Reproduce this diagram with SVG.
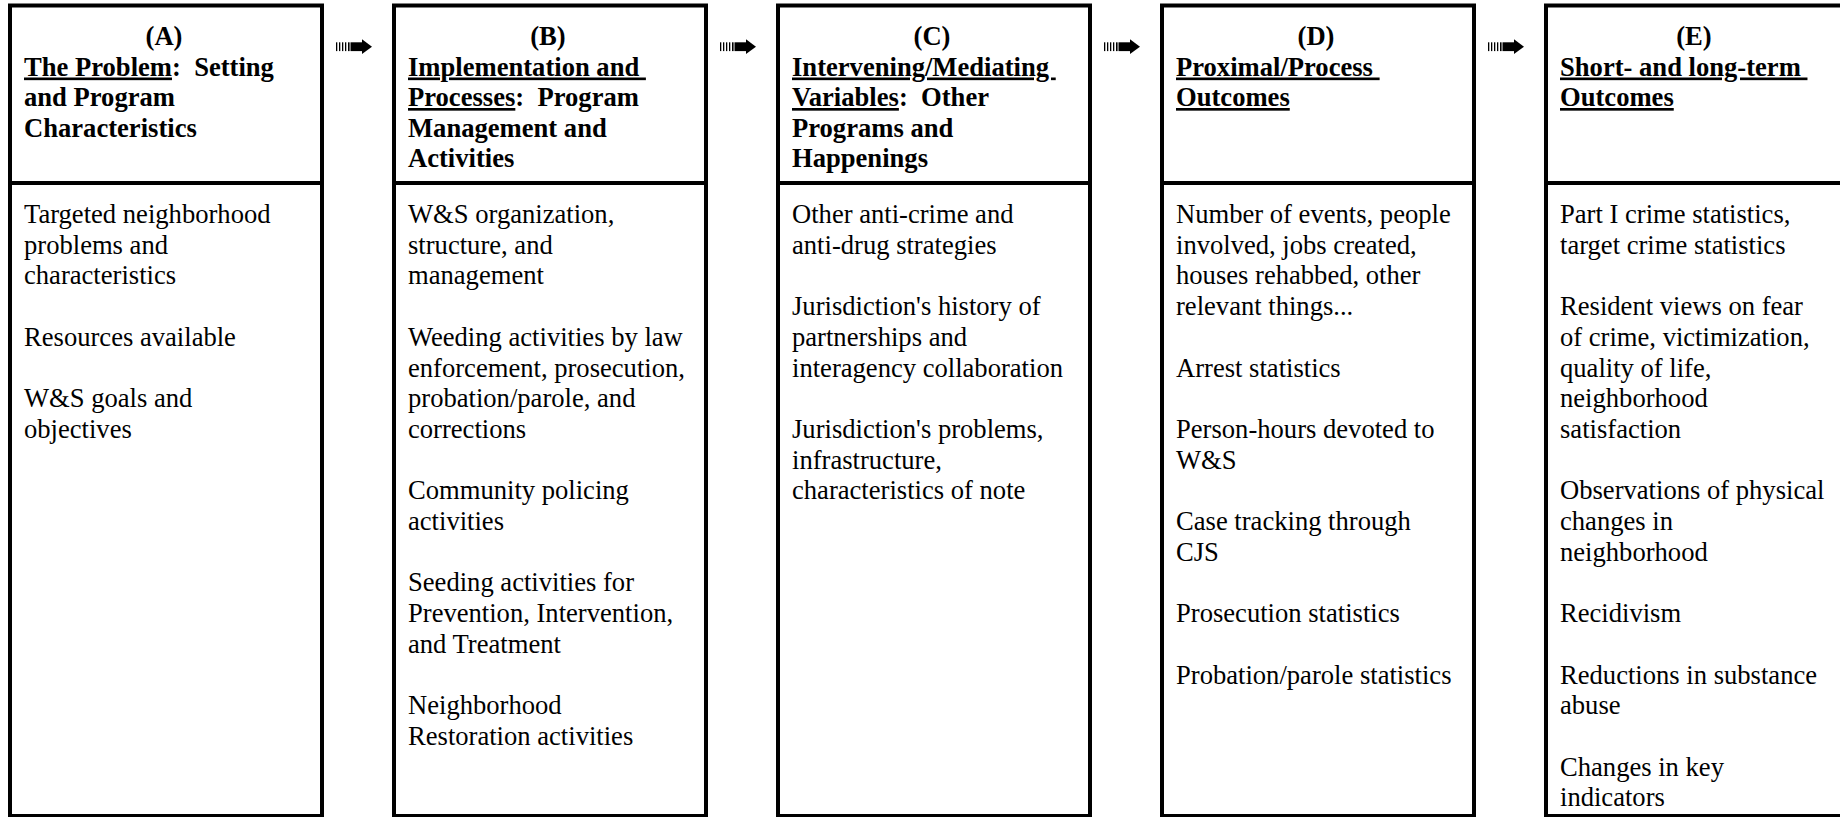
<svg xmlns="http://www.w3.org/2000/svg" width="1840" height="817" viewBox="0 0 1840 817">
<style>
.box{fill:#fff;stroke:#000;stroke-width:4}
.dv{stroke:#000;stroke-width:4}
.h{font-family:"Liberation Serif","Times New Roman",serif;font-size:26.6px;font-weight:bold;fill:#000}
.b{font-family:"Liberation Serif","Times New Roman",serif;font-size:26.6px;fill:#000}
.u{text-decoration:underline}
.c{text-anchor:middle}
.ar{fill:#000}
</style>
<defs>
<g id="arr">
<rect class="ar" x="1" y="-4.4" width="1.3" height="8.8"/>
<rect class="ar" x="4" y="-4.4" width="1.3" height="8.8"/>
<rect class="ar" x="7" y="-4.4" width="1.3" height="8.8"/>
<rect class="ar" x="10" y="-4.4" width="1.3" height="8.8"/>
<rect class="ar" x="13" y="-4.4" width="1.6" height="8.8"/>
<rect class="ar" x="15.5" y="-4.4" width="12" height="8.8"/>
<polygon class="ar" points="27,-7.4 37,0 27,7.4"/>
</g>
</defs>
<rect x="0" y="0" width="1840" height="817" fill="#fff"/>

<g id="connectors">
<use href="#arr" transform="translate(335,46.7)"/>
<use href="#arr" transform="translate(719,46.7)"/>
<use href="#arr" transform="translate(1103,46.7)"/>
<use href="#arr" transform="translate(1487,46.7)"/>
</g>

<g id="nodeA">
<rect class="box" x="10" y="5.5" width="312" height="810.5"/>
<line class="dv" x1="10" y1="183" x2="322" y2="183"/>
<text class="h c" x="164" y="45">(A)</text>
<text class="h" xml:space="preserve"><tspan x="24" y="75.5"><tspan class="u">The Problem</tspan>:  Setting</tspan><tspan x="24" y="106">and Program</tspan><tspan x="24" y="136.5">Characteristics</tspan></text>
<text class="b"><tspan x="24" y="223">Targeted neighborhood</tspan><tspan x="24" y="253.7">problems and</tspan><tspan x="24" y="284.4">characteristics</tspan><tspan x="24" y="345.8">Resources available</tspan><tspan x="24" y="407.2">W&amp;S goals and</tspan><tspan x="24" y="437.9">objectives</tspan></text>
</g>

<g id="nodeB">
<rect class="box" x="394" y="5.5" width="312" height="810.5"/>
<line class="dv" x1="394" y1="183" x2="706" y2="183"/>
<text class="h c" x="548" y="45">(B)</text>
<text class="h" xml:space="preserve"><tspan x="408" y="75.5" class="u">Implementation and </tspan><tspan x="408" y="106"><tspan class="u">Processes</tspan>:  Program</tspan><tspan x="408" y="136.5">Management and</tspan><tspan x="408" y="167">Activities</tspan></text>
<text class="b"><tspan x="408" y="223">W&amp;S organization,</tspan><tspan x="408" y="253.7">structure, and</tspan><tspan x="408" y="284.4">management</tspan><tspan x="408" y="345.8">Weeding activities by law</tspan><tspan x="408" y="376.5">enforcement, prosecution,</tspan><tspan x="408" y="407.2">probation/parole, and</tspan><tspan x="408" y="437.9">corrections</tspan><tspan x="408" y="499.3">Community policing</tspan><tspan x="408" y="530">activities</tspan><tspan x="408" y="591.4">Seeding activities for</tspan><tspan x="408" y="622.1">Prevention, Intervention,</tspan><tspan x="408" y="652.8">and Treatment</tspan><tspan x="408" y="714.2">Neighborhood</tspan><tspan x="408" y="744.9">Restoration activities</tspan></text>
</g>

<g id="nodeC">
<rect class="box" x="778" y="5.5" width="312" height="810.5"/>
<line class="dv" x1="778" y1="183" x2="1090" y2="183"/>
<text class="h c" x="932" y="45">(C)</text>
<text class="h" xml:space="preserve"><tspan x="792" y="75.5" class="u">Intervening/Mediating </tspan><tspan x="792" y="106"><tspan class="u">Variables</tspan>:  Other</tspan><tspan x="792" y="136.5">Programs and</tspan><tspan x="792" y="167">Happenings</tspan></text>
<text class="b"><tspan x="792" y="223">Other anti-crime and</tspan><tspan x="792" y="253.7">anti-drug strategies</tspan><tspan x="792" y="315.1">Jurisdiction's history of</tspan><tspan x="792" y="345.8">partnerships and</tspan><tspan x="792" y="376.5">interagency collaboration</tspan><tspan x="792" y="437.9">Jurisdiction's problems,</tspan><tspan x="792" y="468.6">infrastructure,</tspan><tspan x="792" y="499.3">characteristics of note</tspan></text>
</g>

<g id="nodeD">
<rect class="box" x="1162" y="5.5" width="312" height="810.5"/>
<line class="dv" x1="1162" y1="183" x2="1474" y2="183"/>
<text class="h c" x="1316" y="45">(D)</text>
<text class="h" xml:space="preserve"><tspan x="1176" y="75.5" class="u">Proximal/Process </tspan><tspan x="1176" y="106" class="u">Outcomes</tspan></text>
<text class="b"><tspan x="1176" y="223">Number of events, people</tspan><tspan x="1176" y="253.7">involved, jobs created,</tspan><tspan x="1176" y="284.4">houses rehabbed, other</tspan><tspan x="1176" y="315.1">relevant things...</tspan><tspan x="1176" y="376.5">Arrest statistics</tspan><tspan x="1176" y="437.9">Person-hours devoted to</tspan><tspan x="1176" y="468.6">W&amp;S</tspan><tspan x="1176" y="530">Case tracking through</tspan><tspan x="1176" y="560.7">CJS</tspan><tspan x="1176" y="622.1">Prosecution statistics</tspan><tspan x="1176" y="683.5">Probation/parole statistics</tspan></text>
</g>

<g id="nodeE">
<rect class="box" x="1546" y="5.5" width="297" height="810.5"/>
<line class="dv" x1="1546" y1="183" x2="1843" y2="183"/>
<text class="h c" x="1694" y="45">(E)</text>
<text class="h" xml:space="preserve"><tspan x="1560" y="75.5" class="u">Short- and long-term </tspan><tspan x="1560" y="106" class="u">Outcomes</tspan></text>
<text class="b"><tspan x="1560" y="223">Part I crime statistics,</tspan><tspan x="1560" y="253.7">target crime statistics</tspan><tspan x="1560" y="315.1">Resident views on fear</tspan><tspan x="1560" y="345.8">of crime, victimization,</tspan><tspan x="1560" y="376.5">quality of life,</tspan><tspan x="1560" y="407.2">neighborhood</tspan><tspan x="1560" y="437.9">satisfaction</tspan><tspan x="1560" y="499.3">Observations of physical</tspan><tspan x="1560" y="530">changes in</tspan><tspan x="1560" y="560.7">neighborhood</tspan><tspan x="1560" y="622.1">Recidivism</tspan><tspan x="1560" y="683.5">Reductions in substance</tspan><tspan x="1560" y="714.2">abuse</tspan><tspan x="1560" y="775.6">Changes in key</tspan><tspan x="1560" y="806.3">indicators</tspan></text>
</g>
</svg>
